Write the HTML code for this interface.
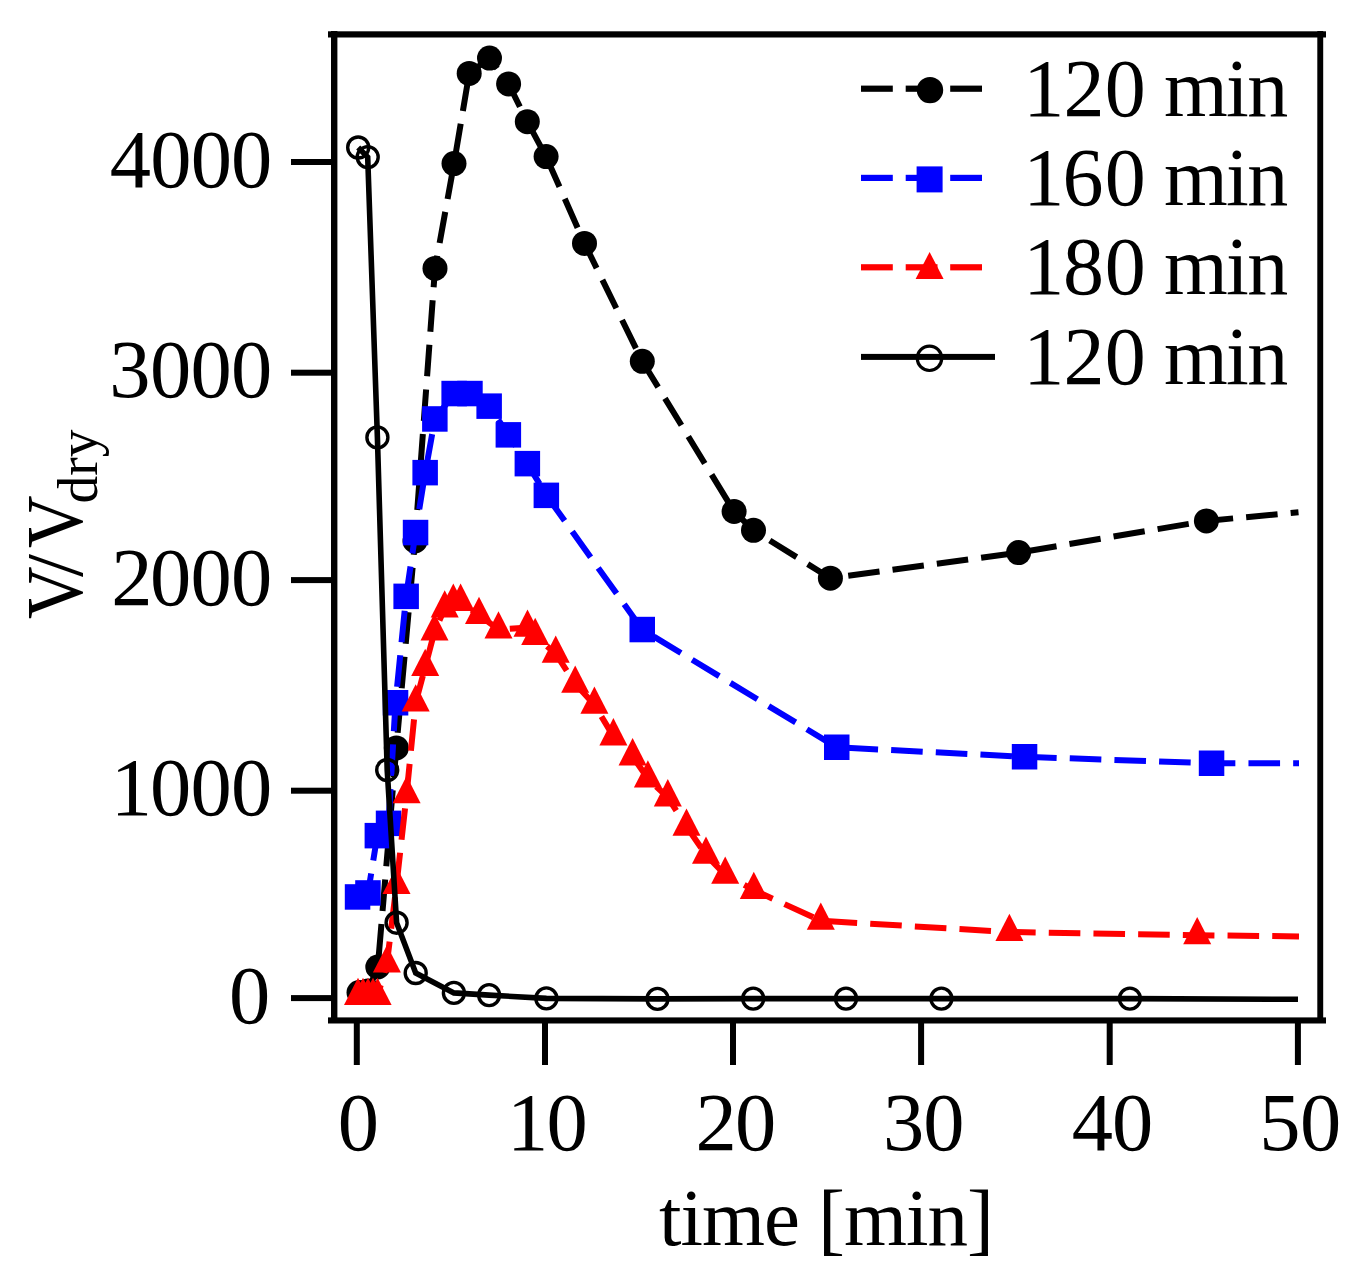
<!DOCTYPE html>
<html><head><meta charset="utf-8"><style>html,body{margin:0;padding:0;background:#fff;}svg{display:block}</style></head>
<body><svg width="1363" height="1280" viewBox="0 0 1363 1280">
<rect width="1363" height="1280" fill="#fff"/>
<path d="M359.0,992.5 L368.0,991.0 L377.8,967.0 L396.3,747.9 L415.0,541.0 L435.0,268.4 L454.0,163.6 L469.2,73.4 L489.5,58.1 L508.6,83.9 L527.3,121.7 L546.1,156.6 L584.5,243.4 L642.3,361.3 L734.1,511.4 L753.5,530.3 L830.4,578.2 L1018.6,552.6 L1206.4,520.9 L1298.5,512.2" fill="none" stroke="#000" stroke-width="6" stroke-dasharray="31.6 13.1" stroke-dashoffset="42.73"/><circle cx="359.0" cy="992.5" r="12.5" fill="#000"/><circle cx="368.0" cy="991.0" r="12.5" fill="#000"/><circle cx="377.8" cy="967.0" r="12.5" fill="#000"/><circle cx="396.3" cy="747.9" r="12.5" fill="#000"/><circle cx="415.0" cy="541.0" r="12.5" fill="#000"/><circle cx="435.0" cy="268.4" r="12.5" fill="#000"/><circle cx="454.0" cy="163.6" r="12.5" fill="#000"/><circle cx="469.2" cy="73.4" r="12.5" fill="#000"/><circle cx="489.5" cy="58.1" r="12.5" fill="#000"/><circle cx="508.6" cy="83.9" r="12.5" fill="#000"/><circle cx="527.3" cy="121.7" r="12.5" fill="#000"/><circle cx="546.1" cy="156.6" r="12.5" fill="#000"/><circle cx="584.5" cy="243.4" r="12.5" fill="#000"/><circle cx="642.3" cy="361.3" r="12.5" fill="#000"/><circle cx="734.1" cy="511.4" r="12.5" fill="#000"/><circle cx="753.5" cy="530.3" r="12.5" fill="#000"/><circle cx="830.4" cy="578.2" r="12.5" fill="#000"/><circle cx="1018.6" cy="552.6" r="12.5" fill="#000"/><circle cx="1206.4" cy="520.9" r="12.5" fill="#000"/>
<path d="M357.5,897.0 L368.0,893.0 L377.3,835.6 L388.5,823.4 L395.5,702.7 L406.1,596.4 L415.5,532.5 L425.2,472.7 L434.9,419.0 L454.2,393.5 L470.0,393.5 L489.2,406.1 L508.3,434.9 L527.4,463.6 L546.4,495.3 L642.2,629.5 L836.7,747.3 L1024.6,756.8 L1211.6,763.3 L1299.0,763.3" fill="none" stroke="#00f" stroke-width="6" stroke-dasharray="31.6 13.1" stroke-dashoffset="0.56"/><rect x="344.8" y="884.2" width="25.5" height="25.5" fill="#00f"/><rect x="355.2" y="880.2" width="25.5" height="25.5" fill="#00f"/><rect x="364.6" y="822.9" width="25.5" height="25.5" fill="#00f"/><rect x="375.8" y="810.6" width="25.5" height="25.5" fill="#00f"/><rect x="382.8" y="690.0" width="25.5" height="25.5" fill="#00f"/><rect x="393.4" y="583.6" width="25.5" height="25.5" fill="#00f"/><rect x="402.8" y="519.8" width="25.5" height="25.5" fill="#00f"/><rect x="412.4" y="459.9" width="25.5" height="25.5" fill="#00f"/><rect x="422.1" y="406.2" width="25.5" height="25.5" fill="#00f"/><rect x="441.4" y="380.8" width="25.5" height="25.5" fill="#00f"/><rect x="457.2" y="380.8" width="25.5" height="25.5" fill="#00f"/><rect x="476.4" y="393.4" width="25.5" height="25.5" fill="#00f"/><rect x="495.6" y="422.1" width="25.5" height="25.5" fill="#00f"/><rect x="514.6" y="450.9" width="25.5" height="25.5" fill="#00f"/><rect x="533.6" y="482.6" width="25.5" height="25.5" fill="#00f"/><rect x="629.5" y="616.8" width="25.5" height="25.5" fill="#00f"/><rect x="824.0" y="734.5" width="25.5" height="25.5" fill="#00f"/><rect x="1011.8" y="744.0" width="25.5" height="25.5" fill="#00f"/><rect x="1198.8" y="750.5" width="25.5" height="25.5" fill="#00f"/>
<path d="M358.0,996.0 L363.0,996.0 L368.0,996.0 L373.0,996.0 L377.6,996.0 L386.9,963.5 L396.5,885.0 L406.6,794.3 L415.7,702.5 L425.2,667.0 L434.5,631.5 L444.7,608.5 L453.3,601.9 L460.6,601.9 L479.0,615.1 L498.5,629.5 L527.5,627.7 L535.2,636.0 L555.7,653.7 L575.2,683.7 L594.4,704.8 L613.4,736.4 L632.6,756.4 L647.9,778.6 L667.8,797.4 L686.5,826.7 L706.0,854.8 L725.2,874.8 L753.8,890.0 L820.8,920.8 L1009.4,932.0 L1197.2,935.2 L1299.0,936.4" fill="none" stroke="#f00" stroke-width="6" stroke-dasharray="31.6 13.1" stroke-dashoffset="0.75"/><path d="M358.0,977.7 L372.0,1005.0 L344.0,1005.0Z" fill="#f00"/><path d="M363.0,977.7 L377.0,1005.0 L349.0,1005.0Z" fill="#f00"/><path d="M368.0,977.7 L382.0,1005.0 L354.0,1005.0Z" fill="#f00"/><path d="M373.0,977.7 L387.0,1005.0 L359.0,1005.0Z" fill="#f00"/><path d="M377.6,977.7 L391.6,1005.0 L363.6,1005.0Z" fill="#f00"/><path d="M386.9,945.2 L400.9,972.5 L372.9,972.5Z" fill="#f00"/><path d="M396.5,866.7 L410.5,894.0 L382.5,894.0Z" fill="#f00"/><path d="M406.6,776.0 L420.6,803.3 L392.6,803.3Z" fill="#f00"/><path d="M415.7,684.2 L429.7,711.5 L401.7,711.5Z" fill="#f00"/><path d="M425.2,648.7 L439.2,676.0 L411.2,676.0Z" fill="#f00"/><path d="M434.5,613.2 L448.5,640.5 L420.5,640.5Z" fill="#f00"/><path d="M444.7,590.2 L458.7,617.5 L430.7,617.5Z" fill="#f00"/><path d="M453.3,583.6 L467.3,610.9 L439.3,610.9Z" fill="#f00"/><path d="M460.6,583.6 L474.6,610.9 L446.6,610.9Z" fill="#f00"/><path d="M479.0,596.8 L493.0,624.1 L465.0,624.1Z" fill="#f00"/><path d="M498.5,611.2 L512.5,638.5 L484.5,638.5Z" fill="#f00"/><path d="M527.5,609.4 L541.5,636.7 L513.5,636.7Z" fill="#f00"/><path d="M535.2,617.7 L549.2,645.0 L521.2,645.0Z" fill="#f00"/><path d="M555.7,635.4 L569.7,662.7 L541.7,662.7Z" fill="#f00"/><path d="M575.2,665.4 L589.2,692.7 L561.2,692.7Z" fill="#f00"/><path d="M594.4,686.5 L608.4,713.8 L580.4,713.8Z" fill="#f00"/><path d="M613.4,718.1 L627.4,745.4 L599.4,745.4Z" fill="#f00"/><path d="M632.6,738.1 L646.6,765.4 L618.6,765.4Z" fill="#f00"/><path d="M647.9,760.3 L661.9,787.6 L633.9,787.6Z" fill="#f00"/><path d="M667.8,779.1 L681.8,806.4 L653.8,806.4Z" fill="#f00"/><path d="M686.5,808.4 L700.5,835.7 L672.5,835.7Z" fill="#f00"/><path d="M706.0,836.5 L720.0,863.8 L692.0,863.8Z" fill="#f00"/><path d="M725.2,856.5 L739.2,883.8 L711.2,883.8Z" fill="#f00"/><path d="M753.8,871.7 L767.8,899.0 L739.8,899.0Z" fill="#f00"/><path d="M820.8,902.5 L834.8,929.8 L806.8,929.8Z" fill="#f00"/><path d="M1009.4,913.7 L1023.4,941.0 L995.4,941.0Z" fill="#f00"/><path d="M1197.2,916.9 L1211.2,944.2 L1183.2,944.2Z" fill="#f00"/>
<path d="M358.2,147.5 L367.7,157.1 L377.4,437.4 L387.2,770.0 L396.6,922.7 L415.7,973.0 L453.9,992.9 L489.1,995.1 L546.4,998.4 L657.5,998.9 L753.2,998.6 L846.0,998.6 L941.4,998.6 L1129.9,998.6 L1298.0,999.3" fill="none" stroke="#000" stroke-width="5.6"/><circle cx="358.2" cy="147.5" r="10.5" fill="none" stroke="#000" stroke-width="3.4"/><circle cx="367.7" cy="157.1" r="10.5" fill="none" stroke="#000" stroke-width="3.4"/><circle cx="377.4" cy="437.4" r="10.5" fill="none" stroke="#000" stroke-width="3.4"/><circle cx="387.2" cy="770.0" r="10.5" fill="none" stroke="#000" stroke-width="3.4"/><circle cx="396.6" cy="922.7" r="10.5" fill="none" stroke="#000" stroke-width="3.4"/><circle cx="415.7" cy="973.0" r="10.5" fill="none" stroke="#000" stroke-width="3.4"/><circle cx="453.9" cy="992.9" r="10.5" fill="none" stroke="#000" stroke-width="3.4"/><circle cx="489.1" cy="995.1" r="10.5" fill="none" stroke="#000" stroke-width="3.4"/><circle cx="546.4" cy="998.4" r="10.5" fill="none" stroke="#000" stroke-width="3.4"/><circle cx="657.5" cy="998.9" r="10.5" fill="none" stroke="#000" stroke-width="3.4"/><circle cx="753.2" cy="998.6" r="10.5" fill="none" stroke="#000" stroke-width="3.4"/><circle cx="846.0" cy="998.6" r="10.5" fill="none" stroke="#000" stroke-width="3.4"/><circle cx="941.4" cy="998.6" r="10.5" fill="none" stroke="#000" stroke-width="3.4"/><circle cx="1129.9" cy="998.6" r="10.5" fill="none" stroke="#000" stroke-width="3.4"/>

<rect x="328" y="31.3" width="998" height="6.2" fill="#000"/>
<rect x="328" y="1017.4" width="998" height="6.1" fill="#000"/>
<rect x="331" y="31" width="6.4" height="992" fill="#000"/>
<rect x="1317.3" y="31" width="5.9" height="992" fill="#000"/>

<rect x="291" y="159.0" width="41" height="6" fill="#000"/><rect x="291" y="369.7" width="41" height="6" fill="#000"/><rect x="291" y="577.1" width="41" height="6" fill="#000"/><rect x="291" y="787.7" width="41" height="6" fill="#000"/><rect x="291" y="995.1" width="41" height="6" fill="#000"/><rect x="353.8" y="1022" width="6" height="43" fill="#000"/><rect x="542.0" y="1022" width="6" height="43" fill="#000"/><rect x="730.0" y="1022" width="6" height="43" fill="#000"/><rect x="918.1" y="1022" width="6" height="43" fill="#000"/><rect x="1106.7" y="1022" width="6" height="43" fill="#000"/><rect x="1294.9" y="1022" width="6" height="43" fill="#000"/>
<text x="109.86 150.18 190.68 230.93" y="187.2" font-family="&quot;Liberation Serif&quot;, serif" font-size="82.5">4000</text><text x="109.31 150.12 190.53 230.97" y="397.2" font-family="&quot;Liberation Serif&quot;, serif" font-size="82.5">3000</text><text x="111.19 150.12 190.53 230.97" y="605" font-family="&quot;Liberation Serif&quot;, serif" font-size="82.5">2000</text><text x="110.63 150.12 190.53 230.97" y="815.3" font-family="&quot;Liberation Serif&quot;, serif" font-size="82.5">1000</text><text x="228.88" y="1022.8" font-family="&quot;Liberation Serif&quot;, serif" font-size="82.5">0</text><text x="337.68" y="1150.3" font-family="&quot;Liberation Serif&quot;, serif" font-size="82.5">0</text><text x="507.03 546.48" y="1150.3" font-family="&quot;Liberation Serif&quot;, serif" font-size="82.5">10</text><text x="695.54 735.08" y="1150.3" font-family="&quot;Liberation Serif&quot;, serif" font-size="82.5">20</text><text x="882.91 923.27" y="1150.3" font-family="&quot;Liberation Serif&quot;, serif" font-size="82.5">30</text><text x="1071.71 1111.88" y="1150.3" font-family="&quot;Liberation Serif&quot;, serif" font-size="82.5">40</text><text x="1259.29 1300.08" y="1150.3" font-family="&quot;Liberation Serif&quot;, serif" font-size="82.5">50</text><text x="659" y="1244.5" font-family="&quot;Liberation Serif&quot;, serif" font-size="81" textLength="335" lengthAdjust="spacing">time [min]</text><g transform="translate(82,620) rotate(-90)"><text x="1" y="0" font-family="&quot;Liberation Serif&quot;, serif" font-size="81" textLength="52.5" lengthAdjust="spacingAndGlyphs">V</text><text x="43" y="0" font-family="&quot;Liberation Serif&quot;, serif" font-size="81" textLength="23" lengthAdjust="spacingAndGlyphs">/</text><text x="72" y="0" font-family="&quot;Liberation Serif&quot;, serif" font-size="81" textLength="52.5" lengthAdjust="spacingAndGlyphs">V</text><text x="116.5" y="14.5" font-family="&quot;Liberation Serif&quot;, serif" font-size="58" textLength="74" lengthAdjust="spacingAndGlyphs">dry</text></g>
<rect x="861" y="85.6" width="31.8" height="6.2" fill="#000"/><rect x="905.7" y="85.6" width="31.8" height="6.2" fill="#000"/><rect x="950.2" y="85.6" width="31.8" height="6.2" fill="#000"/><circle cx="930" cy="90.1" r="13.2" fill="#000"/><text x="1023.36 1063.46 1104.75 1145.75 1164.04 1225.93 1247.18" y="115.8" font-family="&quot;Liberation Serif&quot;, serif" font-size="82">120 min</text><rect x="861" y="174.8" width="31.8" height="6.2" fill="#00f"/><rect x="905.7" y="174.8" width="31.8" height="6.2" fill="#00f"/><rect x="950.2" y="174.8" width="31.8" height="6.2" fill="#00f"/><rect x="916.6" y="166.4" width="26" height="26" fill="#00f"/><text x="1023.36 1062.46 1104.75 1145.75 1164.04 1225.93 1247.18" y="205" font-family="&quot;Liberation Serif&quot;, serif" font-size="82">160 min</text><rect x="861" y="264.2" width="31.8" height="6.2" fill="#f00"/><rect x="905.7" y="264.2" width="31.8" height="6.2" fill="#f00"/><rect x="950.2" y="264.2" width="31.8" height="6.2" fill="#f00"/><path d="M929.6,252 L943.6,279 L915.6,279Z" fill="#f00"/><text x="1023.36 1063.00 1104.75 1145.75 1164.04 1225.93 1247.18" y="294" font-family="&quot;Liberation Serif&quot;, serif" font-size="82">180 min</text><rect x="861" y="353.9" width="134" height="6" fill="#000"/><circle cx="929.5" cy="358.3" r="12.2" fill="none" stroke="#000" stroke-width="3.2"/><text x="1023.36 1063.46 1104.75 1145.75 1164.04 1225.93 1247.18" y="383.8" font-family="&quot;Liberation Serif&quot;, serif" font-size="82">120 min</text>
</svg></body></html>
